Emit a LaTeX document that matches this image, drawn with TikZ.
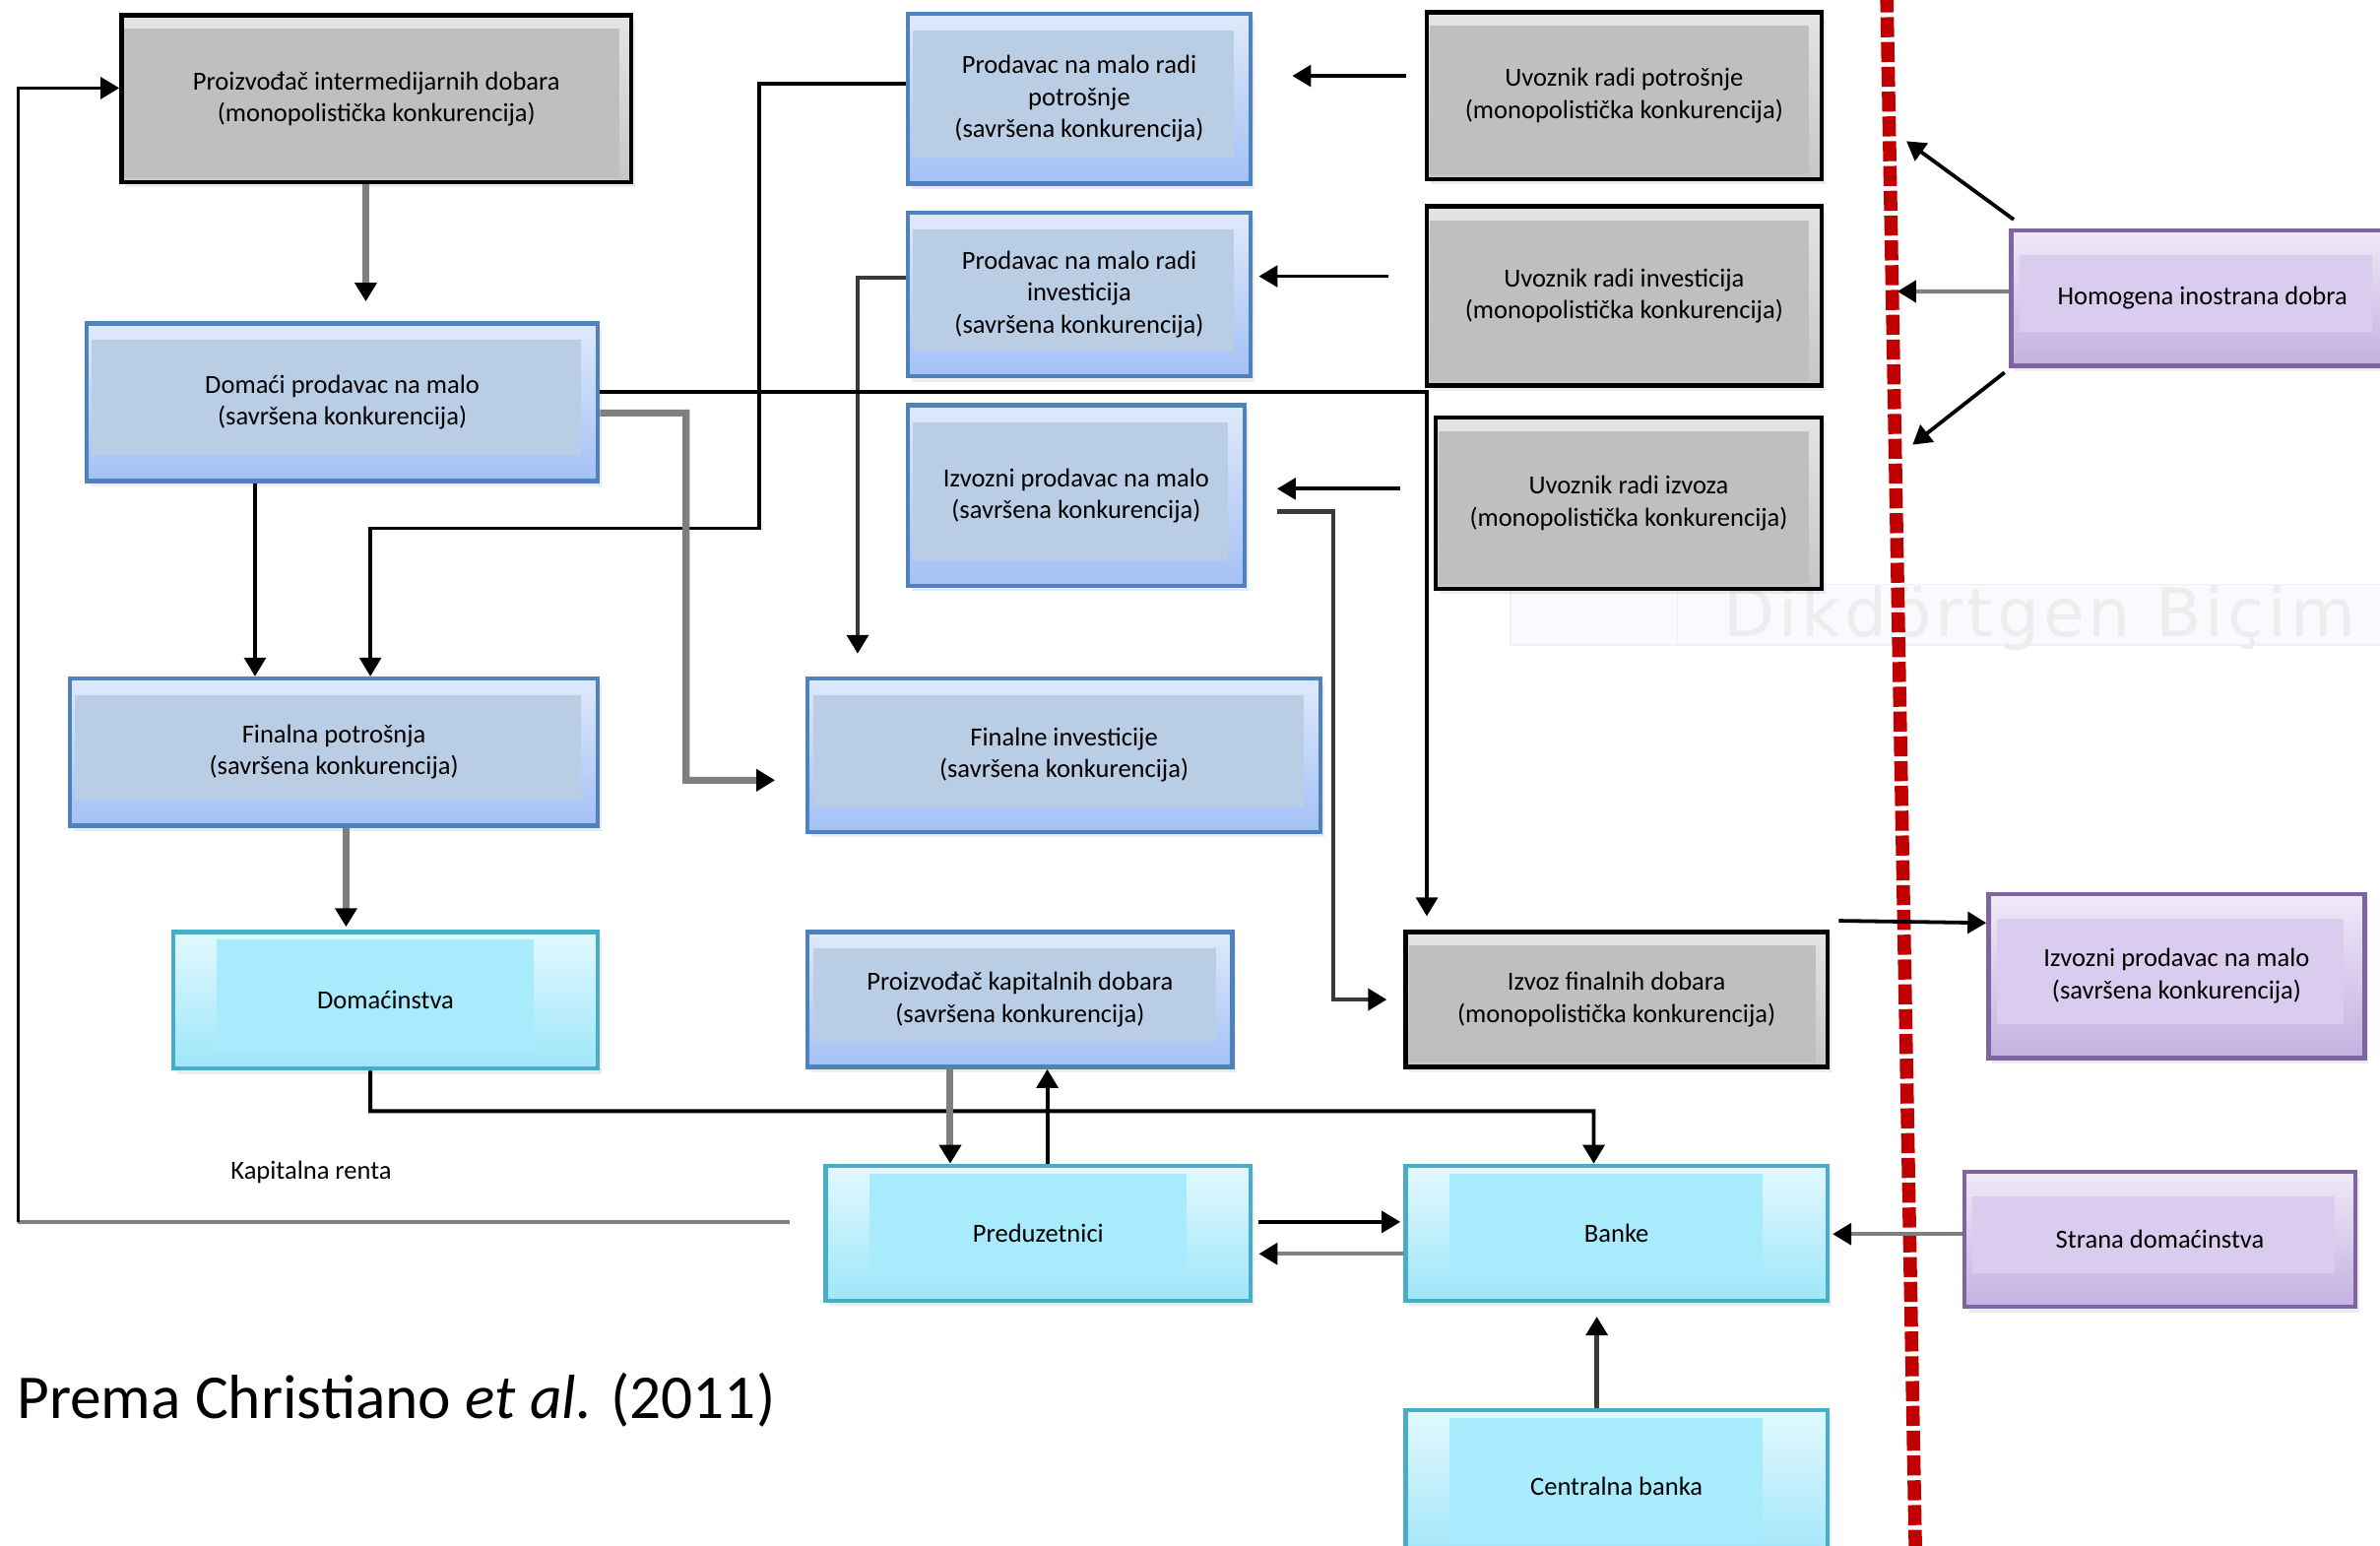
\documentclass[tikz,border=0pt]{standalone}
\usepackage{fontspec}
\setmainfont{Carlito}
\newfontfamily\ghostfont[LetterSpace=6]{DejaVu Sans}
\usepackage{xcolor}
\usepackage{tikz}
\usetikzlibrary{arrows.meta,shadows}

\definecolor{grayin}{HTML}{BFBFBF}
\definecolor{grayhi}{HTML}{E4E4E4}
\definecolor{graylo}{HTML}{C6C6C6}
\definecolor{bluedraw}{HTML}{4F81BD}
\definecolor{bluehi}{HTML}{DFE9FB}
\definecolor{bluelo}{HTML}{A3C1F5}
\definecolor{bluein}{HTML}{B9CDE5}
\definecolor{cyandraw}{HTML}{4BACC6}
\definecolor{cyanhi}{HTML}{E2F8FE}
\definecolor{cyanlo}{HTML}{9EE6FA}
\definecolor{cyanin}{HTML}{A8EBFD}
\definecolor{purpdraw}{HTML}{8064A2}
\definecolor{purphi}{HTML}{EFE9F8}
\definecolor{purplo}{HTML}{C4B1DF}
\definecolor{purpin}{HTML}{DACCEE}
\definecolor{linegray}{HTML}{7F7F7F}
\definecolor{darkline}{HTML}{3A3A3A}
\definecolor{redln}{HTML}{C00000}
\definecolor{ghostfill}{HTML}{F9FAFD}
\definecolor{ghostline}{HTML}{EEF2F8}
\definecolor{ghosttext}{HTML}{EEECEC}

\begin{document}
\begin{tikzpicture}[
    x=0.02cm, y=-0.02cm,
    >={Triangle[length=7pt,width=8pt,color=black]},
    box/.style={rectangle, line width=1.6pt, inner sep=0pt, align=center,
        font=\fontsize{9.8}{11.9}\selectfont,
        drop shadow={shadow xshift=0.05cm, shadow yshift=-0.07cm, opacity=0.15}},
    inset/.style n args={5}{path picture={
        \fill[#1] ([shift={(#2,-#3)}]path picture bounding box.north west)
            rectangle ([shift={(-#4,#5)}]path picture bounding box.south east);}},
    graybox/.style={box, draw=black, top color=grayhi, bottom color=graylo,
        inset={grayin}{0.04cm}{0.18cm}{0.16cm}{0.06cm}},
    bluebox/.style={box, draw=bluedraw, top color=bluehi, bottom color=bluelo,
        inset={bluein}{0.07cm}{0.22cm}{0.22cm}{0.34cm}},
    cyanbox/.style={box, draw=cyandraw, top color=cyanhi, bottom color=cyanlo,
        inset={cyanin}{0.58cm}{0.10cm}{0.85cm}{0.25cm}},
    purplebox/.style={box, draw=purpdraw, top color=purphi, bottom color=purplo,
        inset={purpin}{0.11cm}{0.32cm}{0.28cm}{0.45cm}},
    bline/.style={draw=black, line width=1.4pt},
    gline/.style={draw=linegray, line width=1.6pt},
    gthick/.style={draw=linegray, line width=2.6pt},
    dline/.style={draw=darkline, line width=1.6pt},
    redline/.style={draw=redln, line width=5pt, dash pattern=on 7.5pt off 1.8pt},
    plain/.style={inner sep=0pt, font=\fontsize{9.8}{11.9}\selectfont},
]
\useasboundingbox (0,0) rectangle (1568,1018);

% faint leftover
\filldraw[fill=ghostfill, draw=ghostline, line width=0.6pt] (995,385) rectangle (1590,425);
\draw[ghostline, line width=0.6pt] (1105,385) -- (1105,425);
\node[inner sep=0pt, text=ghosttext, font=\ghostfont\fontsize{25}{28}\selectfont] (ghost) at (1344,407) {Dikdörtgen Biçim};

\draw[redline] (1243,-5) -- (1262,1025);

\node[graybox, minimum width=6.72cm, minimum height=2.20cm] (pi) at (248,65)
    {Proizvođač intermedijarnih dobara\\(monopolistička konkurencija)};
\node[bluebox, minimum width=6.74cm, minimum height=2.08cm] (dpm) at (225.5,265)
    {Domaći prodavac na malo\\(savršena konkurencija)};
\node[bluebox, minimum width=4.52cm, minimum height=2.24cm] (pmrp) at (711,65)
    {Prodavac na malo radi\\potrošnje\\(savršena konkurencija)};
\node[bluebox, minimum width=4.52cm, minimum height=2.16cm] (pmri) at (711,194)
    {Prodavac na malo radi\\investicija\\(savršena konkurencija)};
\node[bluebox, minimum width=4.44cm, minimum height=2.38cm] (ipm) at (709,326.5)
    {Izvozni prodavac na malo\\(savršena konkurencija)};
\node[graybox, minimum width=5.20cm, minimum height=2.20cm] (urp) at (1070,63)
    {Uvoznik radi potrošnje\\(monopolistička konkurencija)};
\node[graybox, minimum width=5.20cm, minimum height=2.36cm] (uri) at (1070,195)
    {Uvoznik radi investicija\\(monopolistička konkurencija)};
\node[graybox, minimum width=5.08cm, minimum height=2.26cm] (uriz) at (1073,331.5)
    {Uvoznik radi izvoza\\(monopolistička konkurencija)};
\node[bluebox, minimum width=6.96cm, minimum height=1.94cm] (fp) at (220,495.5)
    {Finalna potrošnja\\(savršena konkurencija)};
\node[bluebox, minimum width=6.76cm, minimum height=2.02cm] (fi) at (701,497.5)
    {Finalne investicije\\(savršena konkurencija)};
\node[cyanbox, minimum width=5.60cm, minimum height=1.80cm] (dom) at (254,659)
    {Domaćinstva};
\node[bluebox, minimum width=5.60cm, minimum height=1.78cm] (pkd) at (672,658.5)
    {Proizvođač kapitalnih dobara\\(savršena konkurencija)};
\node[graybox, minimum width=5.56cm, minimum height=1.78cm] (ifd) at (1065,658.5)
    {Izvoz finalnih dobara\\(monopolistička konkurencija)};
\node[purplebox, minimum width=4.96cm, minimum height=2.16cm] (ipmx) at (1434,643)
    {Izvozni prodavac na malo\\(savršena konkurencija)};
\node[purplebox, minimum width=5.04cm, minimum height=1.78cm] (hid) at (1451,196.5)
    {Homogena inostrana dobra};
\node[cyanbox, minimum width=5.60cm, minimum height=1.78cm] (pred) at (684,812.5)
    {Preduzetnici};
\node[cyanbox, minimum width=5.56cm, minimum height=1.78cm] (banke) at (1065,812.5)
    {Banke};
\node[purplebox, minimum width=5.16cm, minimum height=1.78cm] (sd) at (1423,816.5)
    {Strana domaćinstva};
\node[cyanbox, minimum width=5.56cm, minimum height=2.02cm] (cb) at (1065,979.5)
    {Centralna banka};

\node[plain] (renta) at (205,772) {Kapitalna renta};
\node[inner sep=0pt, font=\fontsize{23.4}{28}\selectfont] (izvor) at (261,922)
    {Prema Christiano \textit{et al.} (2011)};

% kapitalna renta
\coordinate (kr) at (520,805);
\coordinate (kl) at (12,805);
\draw[gline] (kr) -- (kl);
\draw[bline,->] (kl) |- ([yshift=0.14cm]pi.west);

\draw[gthick,->,shorten >=0.26cm] ([xshift=-0.14cm]pi.south) -- ([xshift=-0.14cm]pi.south |- dpm.north);
\draw[bline,->] ([xshift=-1.15cm]dpm.south) -- ([xshift=-1.15cm]dpm.south |- fp.north);
\draw[bline,->] ([yshift=0.2cm]pmrp.west) -| (500,348) -| ([xshift=0.48cm]fp.north);
\draw[dline,->,shorten >=0.3cm] ([yshift=0.22cm]pmri.west) -| ([xshift=-2.72cm]fi.north);
\draw[gthick,->,shorten >=0.4cm] ([yshift=-0.14cm]dpm.east) -| (452,514) -- ([yshift=-0.33cm]fi.west);
\draw[bline,->,shorten >=0.18cm] ([yshift=0.14cm]dpm.east) -| ([xshift=-2.5cm]ifd.north);

\draw[bline,->,shorten <=0.24cm,shorten >=0.52cm] ([yshift=0.26cm]urp.west) -- ([yshift=0.26cm]urp.west -| pmrp.east);
\draw[bline,->,shorten <=0.48cm,shorten >=0.08cm] ([yshift=0.26cm]uri.west) -- ([yshift=0.26cm]uri.west -| pmri.east);
\draw[bline,->,shorten <=0.44cm,shorten >=0.4cm] ([yshift=0.19cm]uriz.west) -- ([yshift=0.19cm]uriz.west -| ipm.east);
\draw[dline,->,shorten <=0.4cm,shorten >=0.22cm] ([yshift=-0.21cm]ipm.east) -- ++(57,0) |- (ifd.west);
\draw[bline,->] ([shift={(0.12cm,0.12cm)}]ifd.north east) -- ([yshift=0.7cm]ipmx.west);

% homogena dobra
\coordinate (hu) at (1256,93);
\coordinate (hm) at (1250,192);
\coordinate (hd) at (1260,293);
\draw[bline,->] ([shift={(0.06cm,0.12cm)}]hid.north west) -- (hu);
\draw[gline,->] ([yshift=0.09cm]hid.west) -- (hm);
\draw[bline,->] ([shift={(-0.06cm,-0.06cm)}]hid.south west) -- (hd);

\draw[gthick,->,shorten >=0.04cm] ([xshift=0.16cm]fp.south) -- ([xshift=0.16cm]fp.south |- dom.north);
\draw[bline,->] ([xshift=-0.2cm]dom.south) |- (1050,732) -- ([xshift=-0.3cm]banke.north);
\draw[gthick,->] ([xshift=-0.92cm]pkd.south) -- ([xshift=-0.92cm]pkd.south |- pred.north);
\draw[bline,->] ([xshift=0.12cm]pred.north) -- ([xshift=0.12cm]pred.north |- pkd.south);
\draw[bline,->,shorten <=0.08cm,shorten >=0.04cm] ([yshift=0.15cm]pred.east) -- ([yshift=0.15cm]pred.east -| banke.west);
\draw[gline,->,shorten >=0.08cm] ([yshift=-0.27cm]banke.west) -- ([yshift=-0.27cm]banke.west -| pred.east);
\draw[gline,->,shorten >=0.04cm] ([yshift=0.07cm]sd.west) -- ([yshift=0.07cm]sd.west -| banke.east);
\draw[dline,->,shorten >=0.18cm] ([xshift=-0.26cm]cb.north) -- ([xshift=-0.26cm]cb.north |- banke.south);

\end{tikzpicture}
\end{document}
